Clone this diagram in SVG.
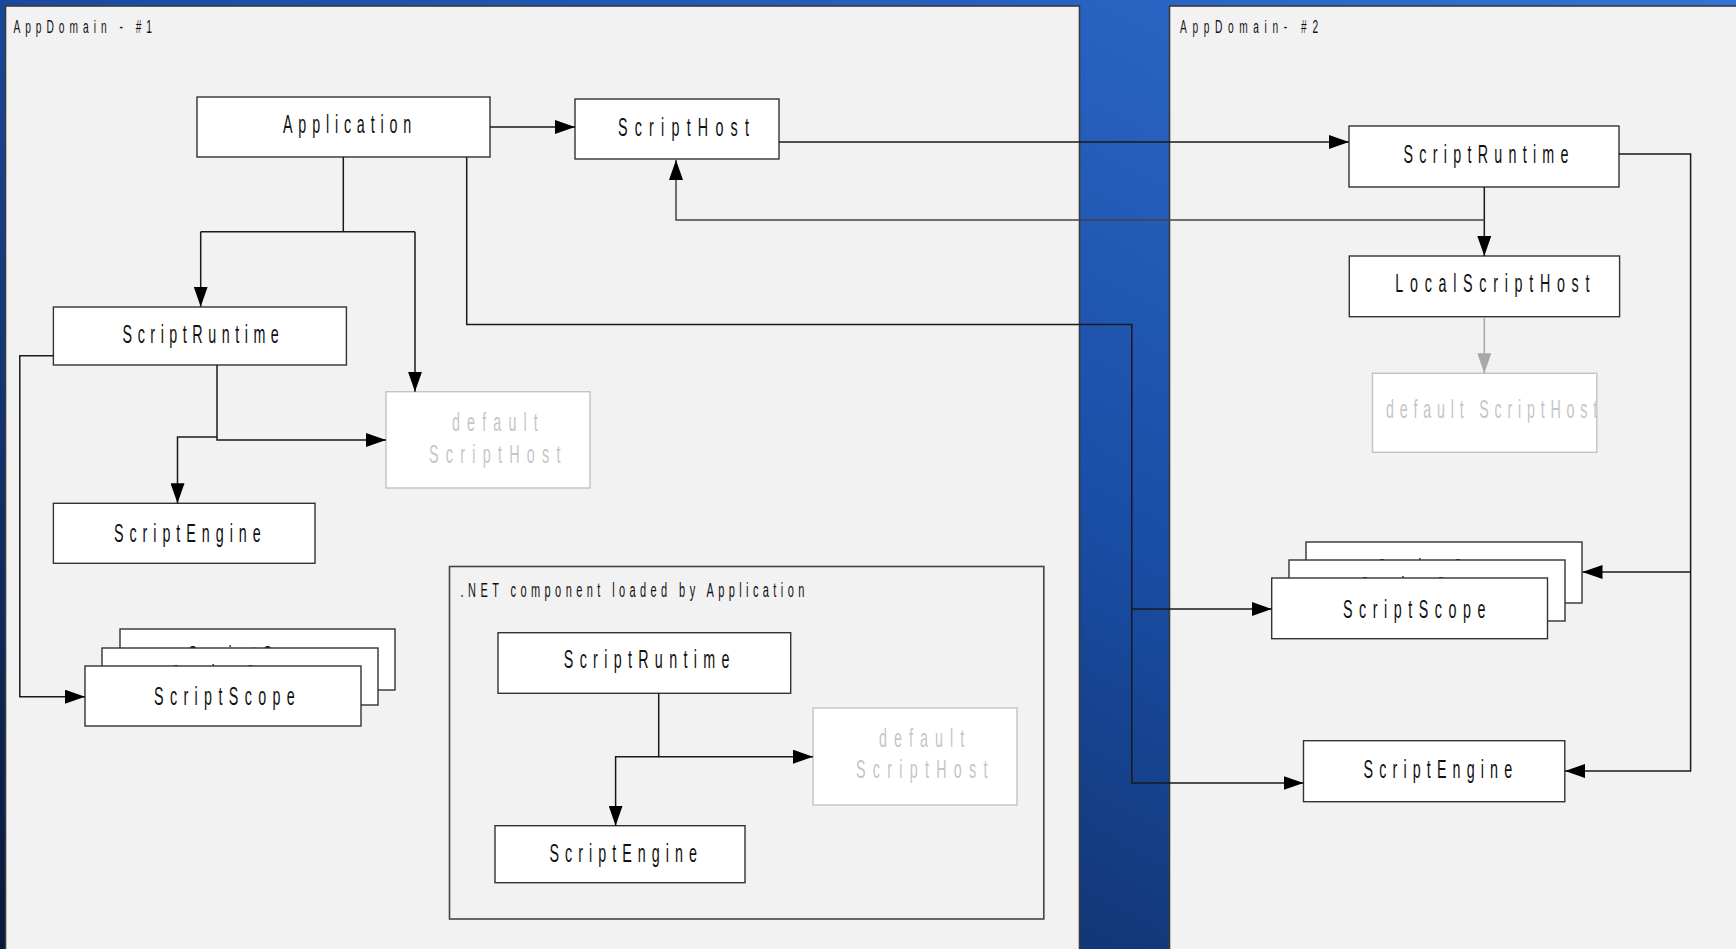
<svg xmlns="http://www.w3.org/2000/svg" width="1736" height="949" viewBox="0 0 1736 949">
<defs>
<linearGradient id="bg" x1="0" y1="1" x2="1" y2="0">
<stop offset="0" stop-color="#08183a"/>
<stop offset="0.55" stop-color="#1a4ea6"/>
<stop offset="1" stop-color="#3372d6"/>
</linearGradient>
<marker id="ah" markerUnits="userSpaceOnUse" markerWidth="20" markerHeight="14" refX="20" refY="7" orient="auto">
<path d="M0,0 L20,7 L0,14 z" fill="#000"/>
</marker>
<marker id="ahg" markerUnits="userSpaceOnUse" markerWidth="20" markerHeight="14" refX="20" refY="7" orient="auto">
<path d="M0,0 L20,7 L0,14 z" fill="#a8a8a8"/>
</marker>
</defs>
<style>
.panel{fill:#f2f2f2;stroke:#3a3a3a;stroke-width:1.6}
.box{fill:#fff;stroke:#333;stroke-width:1.4}
.gbox{fill:#fff;stroke:#c4c4c4;stroke-width:1.4}
.t{font-family:"Liberation Sans",Arial,sans-serif;font-size:26px;fill:#111}
.gt{font-family:"Liberation Sans",Arial,sans-serif;font-size:26px;fill:#c6c6c6}
.lbl{font-family:"Liberation Sans",Arial,sans-serif;font-size:18.5px;fill:#111}
.lbl2{font-family:"Liberation Sans",Arial,sans-serif;font-size:20px;fill:#111}
.c{fill:none;stroke:#1a1a1a;stroke-width:1.5}
.cg{fill:none;stroke:#a8a8a8;stroke-width:1.5}
</style>
<rect x="0" y="0" width="1736" height="949" fill="url(#bg)"/>

<g id="appdomain1">
<rect class="panel" x="5.5" y="6" width="1074" height="960"/>
<text class="lbl" transform="translate(13.4,32.7) scale(0.55,1)" textLength="252" lengthAdjust="spacing">AppDomain - #1</text>
</g>
<g id="appdomain2">
<rect class="panel" x="1169.5" y="6" width="600" height="960"/>
<text class="lbl" transform="translate(1180,32.7) scale(0.55,1)" textLength="251" lengthAdjust="spacing">AppDomain- #2</text>
</g>
<g id="netcomponent">
<rect class="panel" x="449.5" y="566.5" width="594.3" height="352.5" style="stroke:#444"/>
<text class="lbl2" transform="translate(460.6,596.7) scale(0.55,1)" textLength="625" lengthAdjust="spacing">.NET component loaded by Application</text>
</g>

<g id="application">
<rect class="box" x="197" y="97" width="293" height="60"/>
<text class="t" transform="translate(283,133) scale(0.55,1)" textLength="233" lengthAdjust="spacing">Application</text>
</g>
<g id="scripthost">
<rect class="box" x="575" y="99" width="204" height="60"/>
<text class="t" transform="translate(618,136) scale(0.55,1)" textLength="238" lengthAdjust="spacing">ScriptHost</text>
</g>
<g id="scriptruntime1">
<rect class="box" x="53.4" y="307" width="293" height="58"/>
<text class="t" transform="translate(122.6,343.3) scale(0.55,1)" textLength="284" lengthAdjust="spacing">ScriptRuntime</text>
</g>
<g id="defaultscripthost1">
<rect class="gbox" x="386" y="391.7" width="204" height="96.3"/>
<text class="gt" transform="translate(452,430.7) scale(0.55,1)" textLength="156" lengthAdjust="spacing">default</text>
<text class="gt" transform="translate(429,463.3) scale(0.55,1)" textLength="239" lengthAdjust="spacing">ScriptHost</text>
</g>
<g id="scriptengine1">
<rect class="box" x="53.4" y="503.3" width="261.6" height="60"/>
<text class="t" transform="translate(113.9,541.7) scale(0.55,1)" textLength="267" lengthAdjust="spacing">ScriptEngine</text>
</g>
<g id="scriptscope1">
<rect class="box" x="120" y="629" width="275" height="61"/>
<text class="t" transform="translate(188,664) scale(0.55,1)" textLength="256" lengthAdjust="spacing">ScriptScope</text>
<rect class="box" x="102" y="648" width="276" height="57"/>
<text class="t" transform="translate(171,683) scale(0.55,1)" textLength="256" lengthAdjust="spacing">ScriptScope</text>
<rect class="box" x="85" y="666" width="276" height="60"/>
<text class="t" transform="translate(154,705) scale(0.55,1)" textLength="256" lengthAdjust="spacing">ScriptScope</text>
</g>

<g id="netscriptruntime">
<rect class="box" x="498" y="632.7" width="292.7" height="60.6"/>
<text class="t" transform="translate(563.8,668.3) scale(0.55,1)" textLength="301" lengthAdjust="spacing">ScriptRuntime</text>
</g>
<g id="netdefaultscripthost">
<rect class="gbox" x="813" y="708" width="204" height="97"/>
<text class="gt" transform="translate(879,746.7) scale(0.55,1)" textLength="155" lengthAdjust="spacing">default</text>
<text class="gt" transform="translate(856,777.7) scale(0.55,1)" textLength="239" lengthAdjust="spacing">ScriptHost</text>
</g>
<g id="netscriptengine">
<rect class="box" x="495" y="825.7" width="250" height="57"/>
<text class="t" transform="translate(549.5,861.7) scale(0.55,1)" textLength="268" lengthAdjust="spacing">ScriptEngine</text>
</g>

<g id="scriptruntime2">
<rect class="box" x="1349" y="126" width="270" height="61"/>
<text class="t" transform="translate(1403.5,163) scale(0.55,1)" textLength="300" lengthAdjust="spacing">ScriptRuntime</text>
</g>
<g id="localscripthost">
<rect class="box" x="1349.3" y="256" width="270.3" height="60.7"/>
<text class="t" transform="translate(1395.3,291.7) scale(0.55,1)" textLength="353" lengthAdjust="spacing">LocalScriptHost</text>
</g>
<g id="defaultscripthost2">
<rect class="gbox" x="1372.5" y="373.3" width="224.3" height="79"/>
<text class="gt" transform="translate(1386,418.3) scale(0.55,1)" textLength="384" lengthAdjust="spacing">default ScriptHost</text>
</g>
<g id="scriptscope2">
<rect class="box" x="1306" y="542" width="276" height="61"/>
<text class="t" transform="translate(1377.3,577) scale(0.55,1)" textLength="259" lengthAdjust="spacing">ScriptScope</text>
<rect class="box" x="1289" y="560" width="276" height="61"/>
<text class="t" transform="translate(1360.3,595) scale(0.55,1)" textLength="259" lengthAdjust="spacing">ScriptScope</text>
<rect class="box" x="1271.7" y="578" width="275.8" height="60.7"/>
<text class="t" transform="translate(1343,617.7) scale(0.55,1)" textLength="259" lengthAdjust="spacing">ScriptScope</text>
</g>
<g id="scriptengine2">
<rect class="box" x="1303.5" y="740.7" width="261.3" height="61"/>
<text class="t" transform="translate(1363.6,777.7) scale(0.55,1)" textLength="270" lengthAdjust="spacing">ScriptEngine</text>
</g>

<g id="connectors">
<path class="c" d="M490,127 H575" marker-end="url(#ah)"/>
<path class="c" d="M779,142 H1349" marker-end="url(#ah)"/>
<path class="c" d="M1484.3,187 V256" marker-end="url(#ah)"/>
<path class="c" d="M1484.3,220 H676 V160" marker-end="url(#ah)" style="stroke:#444"/>
<path class="cg" d="M1484.3,317 V373.3" marker-end="url(#ahg)"/>
<path class="c" d="M1619,154 H1690.6 V771 H1565" marker-end="url(#ah)"/>
<path class="c" d="M1690.6,572 H1582.5" marker-end="url(#ah)"/>
<path class="c" d="M466.7,157 V324.5 H1131.8 V783 H1303.5" marker-end="url(#ah)"/>
<path class="c" d="M1131.8,609 H1271.7" marker-end="url(#ah)"/>
<path class="c" d="M343.3,157 V231.7 M200.7,231.7 H415"/>
<path class="c" d="M200.7,231.7 V306.7" marker-end="url(#ah)"/>
<path class="c" d="M415,231.7 V391.7" marker-end="url(#ah)"/>
<path class="c" d="M53.4,355.7 H19.8 V696.7 H85" marker-end="url(#ah)"/>
<path class="c" d="M217,365 V440 H386" marker-end="url(#ah)"/>
<path class="c" d="M217,437 H177.5 V503.3" marker-end="url(#ah)"/>
<path class="c" d="M658.7,693.3 V756.7 H813" marker-end="url(#ah)"/>
<path class="c" d="M658.7,756.7 H615.6 V825.7" marker-end="url(#ah)"/>
</g>
</svg>
